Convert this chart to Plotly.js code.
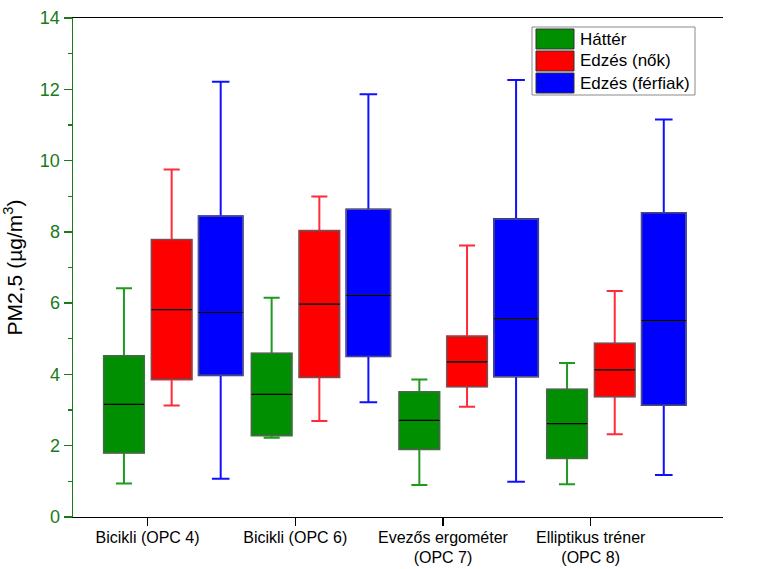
<!DOCTYPE html>
<html>
<head>
<meta charset="utf-8">
<script src="https://cdn.plot.ly/plotly-3.0.1.min.js"></script>
<style>html,body{margin:0;padding:0;background:#fff;}#chart{width:757px;height:569px;}</style>
</head>
<body>
<div id="chart"></div>
<script>
// ---- data ----
var categories = ["Bicikli (OPC 4)", "Bicikli (OPC 6)", "Evezős ergométer<br>(OPC 7)", "Elliptikus tréner<br>(OPC 8)"];
var seriesNames = ["Háttér", "Edzés (nők)", "Edzés (férfiak)"];

var hatterLow    = [0.94, 2.22, 0.90, 0.92];
var hatterQ1     = [1.80, 2.29, 1.90, 1.65];
var hatterMedian = [3.16, 3.44, 2.71, 2.62];
var hatterQ3     = [4.52, 4.59, 3.51, 3.58];
var hatterHigh   = [6.42, 6.15, 3.86, 4.32];

var nokLow    = [3.13, 2.69, 3.09, 2.32];
var nokQ1     = [3.86, 3.92, 3.66, 3.38];
var nokMedian = [5.82, 5.97, 4.35, 4.13];
var nokQ3     = [7.78, 8.03, 5.07, 4.87];
var nokHigh   = [9.75, 8.99, 7.62, 6.34];

var ferfiakLow    = [1.07, 3.22, 0.99, 1.18];
var ferfiakQ1     = [3.98, 4.51, 3.94, 3.14];
var ferfiakMedian = [5.74, 6.22, 5.56, 5.51];
var ferfiakQ3     = [8.44, 8.63, 8.36, 8.53];
var ferfiakHigh   = [12.21, 11.86, 12.26, 11.15];

// ---- styling ----
var fills = ["#008f00", "#ff0000", "#0000ff"];
var whiskerColors = ["#1f9a1f", "#ff2b3b", "#1010ff"];
var offsets = [-0.16, 0.163, 0.495];
var widths = [0.272, 0.272, 0.298];

var stats = [
  {low: hatterLow, q1: hatterQ1, med: hatterMedian, q3: hatterQ3, high: hatterHigh},
  {low: nokLow, q1: nokQ1, med: nokMedian, q3: nokQ3, high: nokHigh},
  {low: ferfiakLow, q1: ferfiakQ1, med: ferfiakMedian, q3: ferfiakQ3, high: ferfiakHigh}
];

var traces = [];
stats.forEach(function (s, k) {
  var xs = categories.map(function (c, i) { return i + offsets[k]; });
  // whiskers layer
  traces.push({
    type: "box", x: xs, q1: s.q1, median: s.med, q3: s.q3,
    lowerfence: s.low, upperfence: s.high,
    width: widths[k], whiskerwidth: 0.4,
    fillcolor: fills[k], line: {color: whiskerColors[k], width: 2},
    boxpoints: false, showlegend: false, hoverinfo: "skip", name: seriesNames[k]
  });
  // box layer
  traces.push({
    type: "box", x: xs, q1: s.q1, median: s.med, q3: s.q3,
    lowerfence: s.q1, upperfence: s.q3,
    width: widths[k], whiskerwidth: 0,
    fillcolor: fills[k], line: {color: "#5a5a5a", width: 1.2},
    boxpoints: false, showlegend: false, hoverinfo: "skip", name: seriesNames[k]
  });
  // median lines
  var mx = [], my = [];
  xs.forEach(function (x, i) {
    mx.push(x - widths[k] / 2, x + widths[k] / 2, null);
    my.push(s.med[i], s.med[i], null);
  });
  traces.push({
    type: "scatter", mode: "lines", x: mx, y: my,
    line: {color: "#000000", width: 1.3},
    showlegend: false, hoverinfo: "skip"
  });
});

// ---- custom legend (paper coords) ----
var L = 73, R = 723, T = 18, B = 517;
function px(x) { return (x - L) / (R - L); }
function py(y) { return (B - y) / (B - T); }
var shapes = [{
  type: "rect", xref: "paper", yref: "paper",
  x0: px(532), x1: px(695), y0: py(95), y1: py(27),
  line: {color: "#8a8a8a", width: 1}, fillcolor: "#ffffff"
}];
var annotations = [];
var rowTops = [29, 51, 73];
seriesNames.forEach(function (n, k) {
  shapes.push({
    type: "rect", xref: "paper", yref: "paper",
    x0: px(536), x1: px(574), y0: py(rowTops[k] + 20), y1: py(rowTops[k]),
    line: {color: "#333333", width: 1}, fillcolor: fills[k]
  });
  annotations.push({
    xref: "paper", yref: "paper", x: px(578), y: py(rowTops[k] + 10),
    xanchor: "left", yanchor: "middle", showarrow: false, text: n,
    font: {family: "Arial, Liberation Sans, sans-serif", size: 17, color: "#000"}
  });
});

var font = {family: "Arial, Liberation Sans, sans-serif"};
var layout = {
  width: 757, height: 569,
  margin: {l: L, r: 757 - R, t: T, b: 569 - B, pad: 0},
  paper_bgcolor: "#fff", plot_bgcolor: "#fff",
  font: {family: font.family, size: 17, color: "#000"},
  boxmode: "overlay",
  showlegend: false,
  xaxis: {
    range: [-0.505, 3.896], tickmode: "array",
    tickvals: categories.map(function (c, i) { return i; }),
    ticktext: categories,
    ticks: "outside", ticklen: 8, tickcolor: "#000", tickwidth: 1.3,
    ticklabelstandoff: -3,
    showline: true, linecolor: "#000", linewidth: 1.3, mirror: true,
    showgrid: false, zeroline: false,
    tickfont: {family: font.family, size: 16, color: "#000"}
  },
  yaxis: {
    range: [0, 14], dtick: 2, tick0: 0,
    ticks: "outside", ticklen: 8, tickcolor: "#1a7a1a", tickwidth: 1.3,
    minor: {dtick: 1, ticks: "outside", ticklen: 4, tickcolor: "#1a7a1a", tickwidth: 1.3},
    showline: true, linecolor: "#1a7a1a", linewidth: 1.5,
    showgrid: false, zeroline: false,
    tickfont: {family: font.family, size: 18, color: "#1a7a1a"},
    title: {text: "PM2,5 (µg/m<sup>3</sup>)", font: {family: font.family, size: 21, color: "#000"}, standoff: 12}
  },
  yaxis2: {
    range: [0, 14], dtick: 2, tick0: 0, overlaying: "y", side: "right", anchor: "x",
    ticks: "outside", ticklen: 8, tickcolor: "#c81414", tickwidth: 1.3,
    minor: {dtick: 1, ticks: "outside", ticklen: 4, tickcolor: "#c81414", tickwidth: 1.3},
    showline: true, linecolor: "#c81414", linewidth: 1.5,
    showgrid: false, zeroline: false,
    tickfont: {family: font.family, size: 17, color: "#c81414"}
  },
  shapes: shapes,
  annotations: annotations
};

Plotly.newPlot("chart", traces, layout, {displayModeBar: false, staticPlot: true});
</script>
</body>
</html>
